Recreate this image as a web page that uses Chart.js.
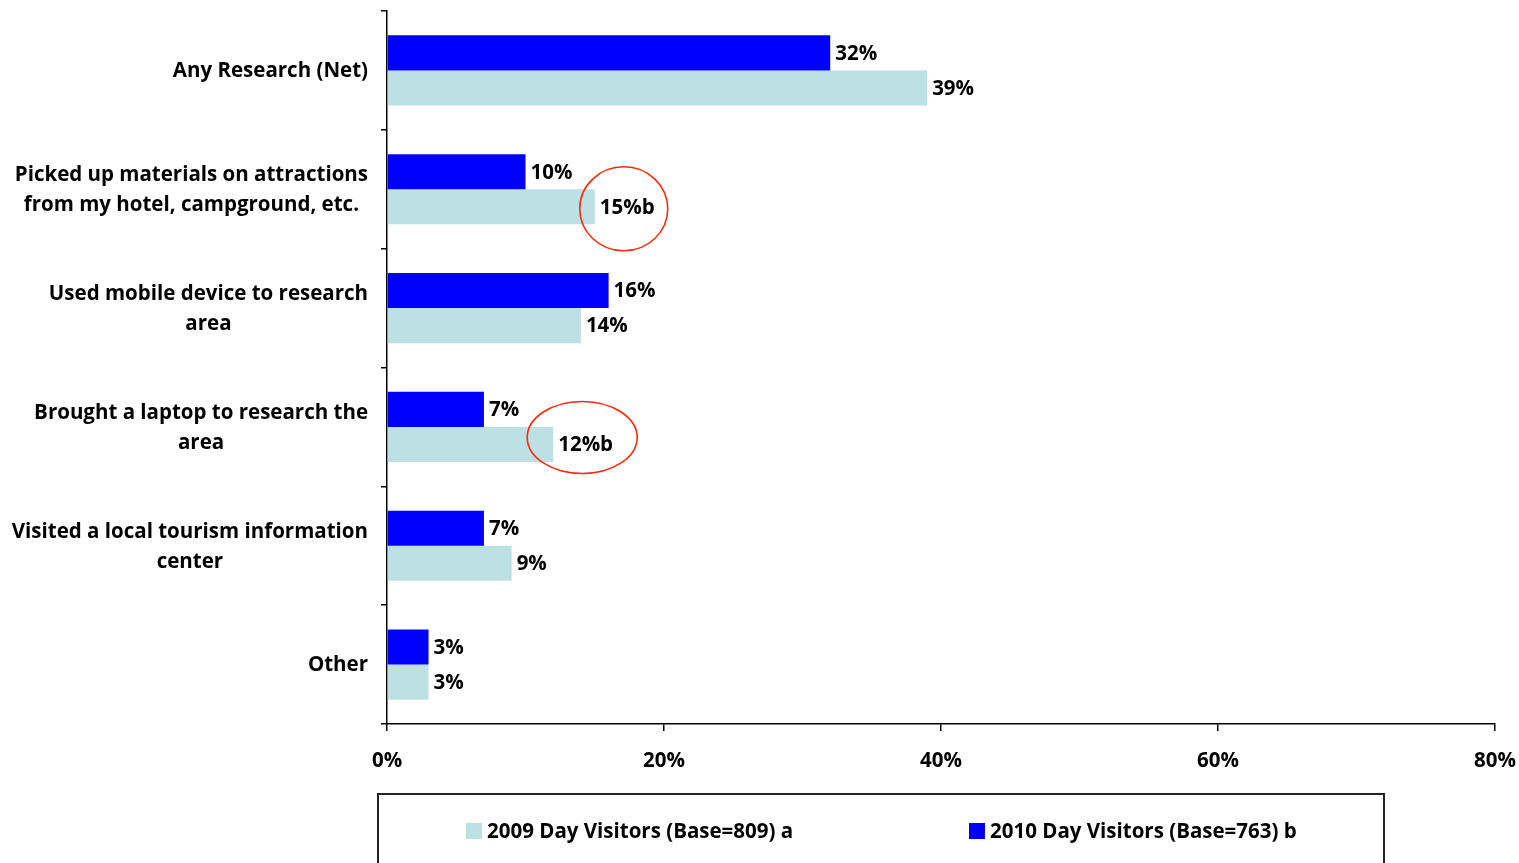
<!DOCTYPE html>
<html>
<head>
<meta charset="utf-8">
<script src="https://cdn.jsdelivr.net/npm/chart.js@4"></script>
<style>
  body { margin: 0; background: #fff; }
  #wrap { position: relative; width: 1519px; height: 863px; overflow: hidden; }
  #legend {
    position: absolute; left: 377px; top: 793px; width: 1008px; height: 100px;
    border: 2px solid #222; box-sizing: border-box;
    font: bold 20.5px "Open Sans", sans-serif; color: #000;
  }
  .item { position: absolute; top: 21px; white-space: nowrap; }
  .sw { display: inline-block; width: 16px; height: 16px; margin-right: 5px; vertical-align: -1px; }
</style>
</head>
<body>
<div id="wrap">
  <canvas id="myChart" width="1519" height="863"></canvas>
  <div id="legend"></div>
</div>
<script>
// categories, each one is a list of lines
var categories = [
  ["Any Research (Net)"],
  ["Picked up materials on attractions", "from my hotel, campground, etc."],
  ["Used mobile device to research", "area"],
  ["Brought a laptop to research the", "area"],
  ["Visited a local tourism information", "center"],
  ["Other"]
];
var values2010 = [32, 10, 16, 7, 7, 3];
var values2009 = [39, 15, 14, 12, 9, 3];
// significance letters shown after the 2009 values
var sig2009 = ["", "b", "", "b", "", ""];
var xTicks = [0, 20, 40, 60, 80];

var label2010 = "2010 Day Visitors (Base=763) b";
var label2009 = "2009 Day Visitors (Base=809) a";
var color2010 = "#0000ff";
var color2009 = "#bce0e3";

var FONT = "'Open Sans', sans-serif";
var FSIZE = 20.5;

// legend (2009 first like the original)
var leg = document.getElementById("legend");
leg.innerHTML =
  "<div class='item' style='left:87px'><span class='sw' style='background:" + color2009 + "'></span>" + label2009 + "</div>" +
  "<div class='item' style='left:590px'><span class='sw' style='background:" + color2010 + "'></span>" + label2010 + "</div>";

// value labels at the end of the bars
const valueLabels = {
  id: "valueLabels",
  afterDatasetsDraw(chart) {
    const ctx = chart.ctx;
    ctx.save();
    ctx.font = "bold " + FSIZE + "px " + FONT;
    ctx.fillStyle = "#000";
    ctx.textBaseline = "middle";
    ctx.textAlign = "left";
    chart.data.datasets.forEach((ds, di) => {
      chart.getDatasetMeta(di).data.forEach((bar, i) => {
        var txt = ds.data[i] + "%";
        if (di == 1) txt += sig2009[i];
        ctx.fillText(txt, bar.x + 5, bar.y + 1);
      });
    });
    ctx.restore();
  }
};

// red circles round the significant ones
const sigCircles = {
  id: "sigCircles",
  afterDraw(chart) {
    const ctx = chart.ctx;
    ctx.save();
    ctx.strokeStyle = "#ff2a0a";
    ctx.lineWidth = 1.6;
    chart.getDatasetMeta(1).data.forEach((bar, i) => {
      if (sig2009[i] == "") return;
      var rx = i == 1 ? 44 : 55;
      var ry = i == 1 ? 42 : 36;
      var dy = i == 1 ? 2 : -7;
      ctx.beginPath();
      ctx.ellipse(bar.x + 29, bar.y + dy, rx, ry, 0, 0, Math.PI * 2);
      ctx.stroke();
    });
    ctx.restore();
  }
};

// category labels: each line centred, block right aligned to the axis
const catLabels = {
  id: "catLabels",
  afterDraw(chart) {
    const ctx = chart.ctx;
    const y = chart.scales.y;
    ctx.save();
    ctx.font = "bold " + FSIZE + "px " + FONT;
    ctx.fillStyle = "#000";
    ctx.textAlign = "center";
    ctx.textBaseline = "middle";
    categories.forEach((lines, i) => {
      var w = Math.max(...lines.map(l => ctx.measureText(l).width));
      var cx = 368 - w / 2;
      var cy = y.getPixelForValue(i) + 1;
      var top = cy - (lines.length - 1) * 15;
      lines.forEach((l, j) => ctx.fillText(l, cx, top + j * 30));
    });
    ctx.restore();
  }
};

const data = {
  labels: categories.map(c => c.join(" ")),
  datasets: [
    { label: label2010, data: values2010, backgroundColor: color2010, borderWidth: 0 },
    { label: label2009, data: values2009, backgroundColor: color2009, borderWidth: 0 }
  ]
};

const config = {
  type: "bar",
  data: data,
  options: {
    indexAxis: "y",
    responsive: false,
    animation: false,
    layout: { padding: { top: 11, right: 24, left: 0, bottom: 0 } },
    datasets: { bar: { categoryPercentage: 0.59, barPercentage: 1 } },
    plugins: { legend: { display: false }, tooltip: { enabled: false } },
    scales: {
      x: {
        min: 0, max: 80,
        afterBuildTicks: s => { s.ticks = xTicks.map(v => ({ value: v })); },
        afterFit: s => { s.height = 139; s.paddingLeft = 0; s.paddingRight = 0; },
        border: { color: "#000", width: 1.5 },
        grid: { drawOnChartArea: false, drawTicks: true, tickLength: 7, color: "#000", lineWidth: 1.5 },
        ticks: {
          padding: 18,
          color: "#000",
          font: { family: FONT, size: FSIZE, weight: "bold" },
          callback: v => v + "%"
        }
      },
      y: {
        afterFit: s => { s.width = 387; s.paddingTop = 0; s.paddingBottom = 0; },
        border: { color: "#000", width: 1.5 },
        grid: { drawOnChartArea: false, drawTicks: true, tickLength: 6, color: "#000", lineWidth: 1.5, offset: true },
        ticks: { display: false }
      }
    }
  },
  plugins: [valueLabels, sigCircles, catLabels]
};

const myChart = new Chart(document.getElementById("myChart"), config);
</script>
</body>
</html>
